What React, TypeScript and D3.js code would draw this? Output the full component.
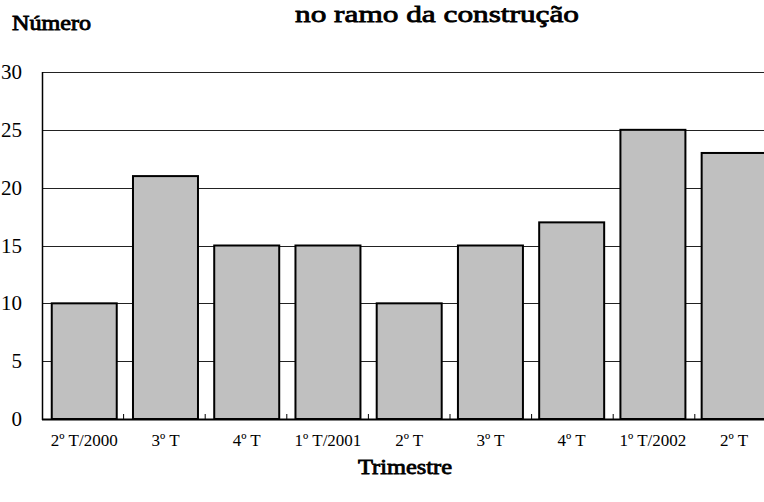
import React, { useEffect, useRef } from 'react';
import * as d3 from 'd3';

const categories = ['2º T/2000', '3º T', '4º T', '1º T/2001', '2º T', '3º T', '4º T', '1º T/2002', '2º T'];
const values = [10, 21, 15, 15, 10, 15, 17, 25, 23];
const yTicks = [0, 5, 10, 15, 20, 25, 30];

const width = 764;
const height = 502;
const serif = "'Liberation Serif', 'Times New Roman', serif";

const App: React.FC = () => {
  const svgRef = useRef<SVGSVGElement | null>(null);

  useEffect(() => {
    const svg = d3.select(svgRef.current);
    svg.selectAll('*').remove();

    const left = 42;
    const top = 72;
    const bottom = 419;
    const step = 81.6;

    const x = d3
      .scaleBand<number>()
      .domain(d3.range(categories.length))
      .range([left, left + step * categories.length])
      .paddingInner(0.2)
      .paddingOuter(0.12);
    const y = d3.scaleLinear().domain([0, 30]).range([bottom, top]);

    // gridlines
    svg
      .selectAll('.grid')
      .data(yTicks.filter((t) => t > 0))
      .enter()
      .append('line')
      .attr('x1', left)
      .attr('x2', width)
      .attr('y1', (d) => Math.round(y(d)) + 0.5)
      .attr('y2', (d) => Math.round(y(d)) + 0.5)
      .attr('stroke', '#222')
      .attr('stroke-width', 1);

    // bars
    svg
      .selectAll('.bar')
      .data(values)
      .enter()
      .append('rect')
      .attr('x', (_, i) => x(i)!)
      .attr('y', (d) => y(d))
      .attr('width', x.bandwidth())
      .attr('height', (d) => y(0) - y(d))
      .attr('fill', '#c0c0c0')
      .attr('stroke', '#000')
      .attr('stroke-width', 2);

    // axes lines
    svg
      .append('line')
      .attr('x1', left + 0.5)
      .attr('x2', left + 0.5)
      .attr('y1', top)
      .attr('y2', bottom + 1)
      .attr('stroke', '#000')
      .attr('stroke-width', 1.5);
    svg
      .append('line')
      .attr('x1', left)
      .attr('x2', width)
      .attr('y1', bottom + 0.5)
      .attr('y2', bottom + 0.5)
      .attr('stroke', '#000')
      .attr('stroke-width', 2);

    // category ticks
    svg
      .selectAll('.ctick')
      .data(d3.range(1, categories.length))
      .enter()
      .append('line')
      .attr('x1', (d) => left + step * d)
      .attr('x2', (d) => left + step * d)
      .attr('y1', bottom)
      .attr('y2', bottom - 5)
      .attr('stroke', '#000')
      .attr('stroke-width', 1);

    // y labels
    svg
      .selectAll('.ylab')
      .data(yTicks)
      .enter()
      .append('text')
      .attr('x', 22)
      .attr('y', (d) => y(d) + 7)
      .attr('text-anchor', 'end')
      .attr('font-family', serif)
      .attr('font-size', 21)
      .text((d) => d);

    // x labels
    svg
      .selectAll('.xlab')
      .data(categories)
      .enter()
      .append('text')
      .attr('x', (_, i) => x(i)! + x.bandwidth() / 2)
      .attr('y', 446)
      .attr('text-anchor', 'middle')
      .attr('font-family', serif)
      .attr('font-size', 17)
      .text((d) => d);

    // bold titles: regular serif thickened with a stroke, width fitted
    const boldText = (
      txt: string,
      tx: number,
      ty: number,
      size: number,
      len: number,
      anchor: string
    ) =>
      svg
        .append('text')
        .attr('x', tx)
        .attr('y', ty)
        .attr('text-anchor', anchor)
        .attr('font-family', serif)
        .attr('font-size', size)
        .attr('stroke', '#000')
        .attr('stroke-width', 0.8)
        .attr('textLength', len)
        .attr('lengthAdjust', 'spacingAndGlyphs')
        .text(txt);

    boldText('no ramo da construção', 437, 22, 24, 284, 'middle');
    boldText('Número', 12, 30, 20, 79, 'start');
    boldText('Trimestre', 405, 474, 21, 94, 'middle');
  }, []);

  return (
    <svg
      ref={svgRef}
      width={width}
      height={height}
      style={{ position: 'absolute', left: 0, top: 0, background: '#fff' }}
    />
  );
};

export default App;
